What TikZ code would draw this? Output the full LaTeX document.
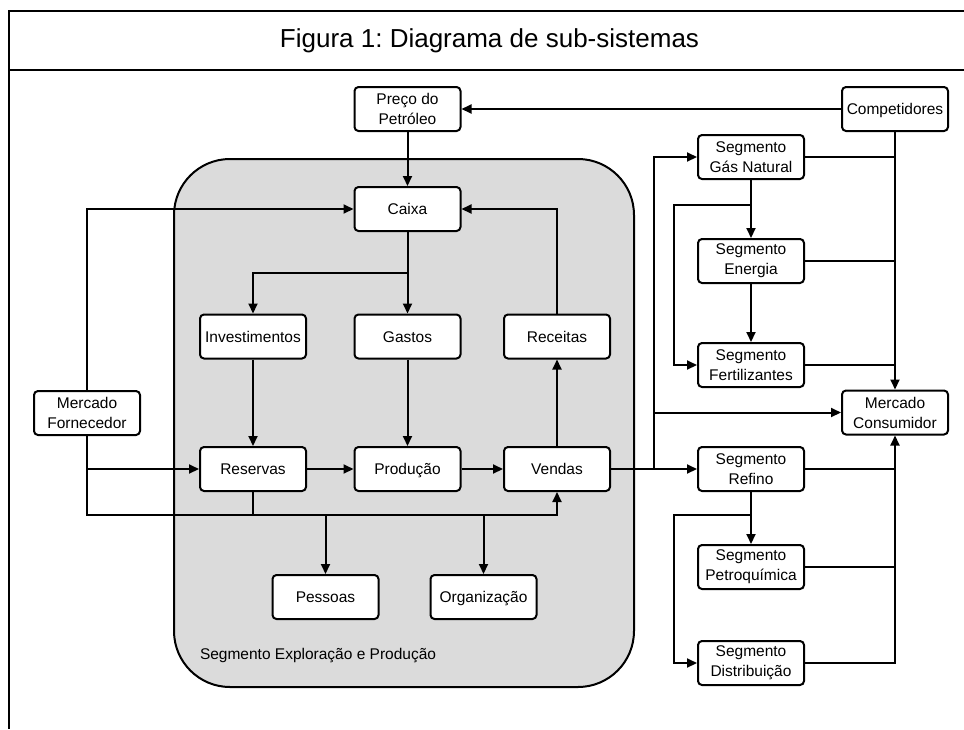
\documentclass[tikz,border=0pt]{standalone}
\usepackage{fontspec}
\setmainfont{Liberation Sans}
\usetikzlibrary{arrows.meta,positioning,calc}
\tikzset{
    sysblock/.style = {
        draw,
        fill = white,
        rounded corners = 4pt,
        minimum width = 106pt,
        minimum height = 44pt,
        inner sep = 2pt,
        align = center,
        font = \fontsize{15.5}{20}\selectfont,
        },
    one line/.style = {
        text height = 11pt,
        text depth = 0pt,
        },
    flow/.style = {
        ->,
        },
    segment area/.style = {
        draw,
        fill = black!14,
        rounded corners = 56pt,
        },
    frame line/.style = {
        line width = 2pt,
        },
}

\begin{document}
\begin{tikzpicture}[
            x=1pt, y=-1pt,
            line width=2pt,
            >={Triangle[length=10pt, width=9pt]},
            every node/.style={inner sep=2pt}
            ]
            \useasboundingbox (0,0) rectangle (964,729);

            % frame and title
            \draw[frame line] (964,11) -- (9,11) -- (9,729);
            \draw[frame line] (9,70) -- (964,70);
            \node[font=\fontsize{26}{30}\selectfont] (title) at (489.5,41) {\frenchspacing Figura 1: Diagrama de sub-sistemas};

            % Segmento E&P
            \draw[segment area] (174,159) rectangle (634,687);
            \node[anchor=west, font=\fontsize{15.5}{20}\selectfont] (eplabel) at (197,656) {Segmento Exploração e Produção};

            % blocks
            \node [sysblock] (pp) at (407.5,109) {Preço do\\Petróleo};
            \node [sysblock, one line] (comp) at (895,109) {Competidores};
            \node [sysblock, one line] (caixa) at (407.5,209) {Caixa};
            \node [sysblock, one line] (inv) at (253,336.5) {Investimentos};
            \node [sysblock, one line] (gastos) at (407.5,336.5) {Gastos};
            \node [sysblock, one line] (rec) at (557,336.5) {Receitas};
            \node [sysblock] (mf) at (87,413) {Mercado\\Fornecedor};
            \node [sysblock, one line] (res) at (253,469) {Reservas};
            \node [sysblock, one line] (prod) at (407.5,469) {Produção};
            \node [sysblock, one line] (vend) at (557,469) {Vendas};
            \node [sysblock, one line] (pess) at (325.5,597) {Pessoas};
            \node [sysblock, one line] (org) at (483.5,597) {Organização};

            \node [sysblock] (gn) at (751,157) {Segmento\\Gás Natural};
            \node [sysblock] (ener) at (751,261) {Segmento\\Energia};
            \node [sysblock] (fert) at (751,365) {Segmento\\Fertilizantes};
            \node [sysblock] (mc) at (895,412.5) {Mercado\\Consumidor};
            \node [sysblock] (ref) at (751,469) {Segmento\\Refino};
            \node [sysblock] (petq) at (751,567) {Segmento\\Petroquímica};
            \node [sysblock] (dist) at (751,663) {Segmento\\Distribuição};

            % junctions
            \coordinate (cxbr) at (407.5,273);
            \coordinate (fbus) at (87,515);
            \coordinate (vbus) at (654,469);
            \coordinate (gbr) at (751,205);
            \coordinate (gleft) at (674,205);
            \coordinate (rbr) at (751,515);
            \coordinate (rleft) at (674,515);

            % Caixa
            \draw[flow] (comp.west) -- (pp.east);
            \draw[flow] (pp.south) -- (caixa.north);
            \draw[flow] (mf.north) |- (caixa.west);
            \draw[flow] (rec.north) |- (caixa.east);
            \draw[flow] (caixa.south) -- (gastos.north);
            \draw[flow] (cxbr) -| (inv.north);

            % E&P flow
            \draw[flow] (inv.south) -- (res.north);
            \draw[flow] (gastos.south) -- (prod.north);
            \draw[flow] (vend.north) -- (rec.south);
            \draw[flow] (res.east) -- (prod.west);
            \draw[flow] (prod.east) -- (vend.west);

            % Fornecedor
            \draw[flow] (mf.south) |- (res.west);
            \draw[flow] (mf.south) -- (fbus) -| (vend.south);
            \draw (res.south) -- (res.south |- fbus);
            \draw[flow] (pess.north |- fbus) -- (pess.north);
            \draw[flow] (org.north |- fbus) -- (org.north);

            % Vendas to segments
            \draw[flow] (vend.east) -- (ref.west);
            \draw[flow] (vbus) |- (gn.west);
            \draw[flow] (vbus |- mc.west) -- (mc.west);

            % Gas chain
            \draw[flow] (gn.south) -- (ener.north);
            \draw[flow] (ener.south) -- (fert.north);
            \draw[flow] (gbr) -- (gleft) |- (fert.west);

            % Refino chain
            \draw[flow] (ref.south) -- (petq.north);
            \draw[flow] (rbr) -- (rleft) |- (dist.west);

            % Consumidor
            \draw[flow] (comp.south) -- (mc.north);
            \draw (gn.east) -- (gn.east -| comp.south);
            \draw (ener.east) -- (ener.east -| comp.south);
            \draw (fert.east) -- (fert.east -| comp.south);
            \draw[flow] (dist.east) -| (mc.south);
            \draw (ref.east) -- (ref.east -| mc.south);
            \draw (petq.east) -- (petq.east -| mc.south);
        \end{tikzpicture}
\end{document}
